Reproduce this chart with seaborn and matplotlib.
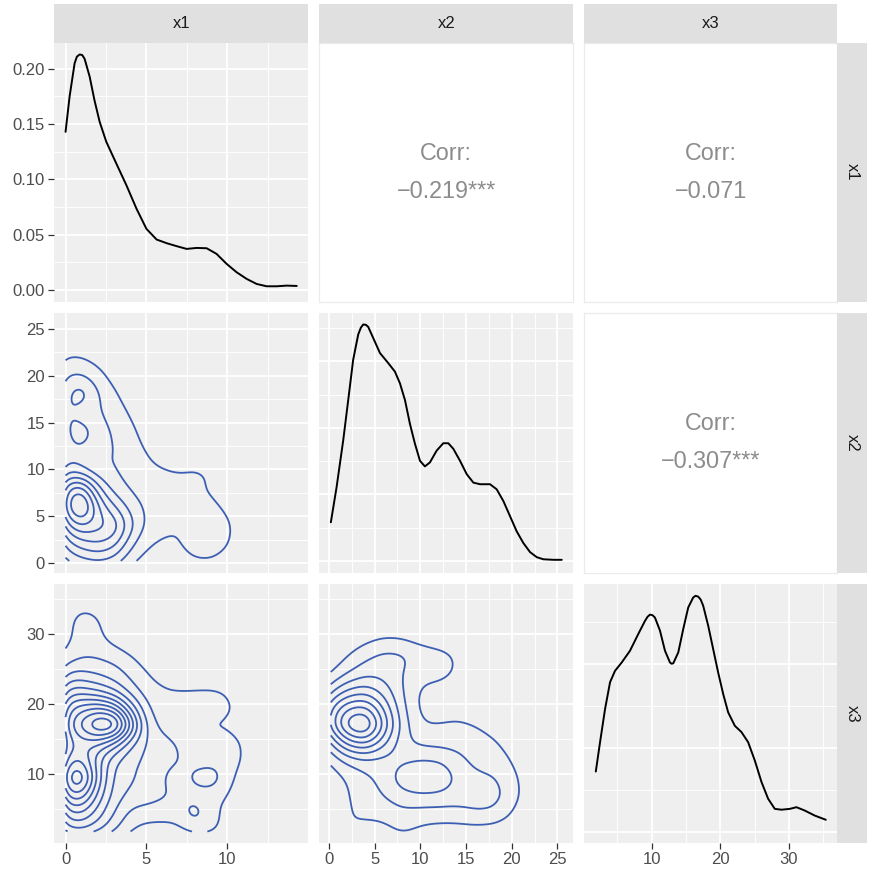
import numpy as np
import matplotlib
matplotlib.use("Agg")
import matplotlib.pyplot as plt
import seaborn as sns

# ---------------------------------------------------------------- data
NAMES = ["x1", "x2", "x3"]

# data extents of each variable
X1_RANGE = (0.0, 14.3)
X2_RANGE = (0.22, 25.48)
X3_RANGE = (1.85, 35.4)

# marginal density estimates
X1_DENS_X = [0.0, 0.25, 0.56, 0.7, 0.87, 1.03, 1.18, 1.49, 1.79, 2.11, 2.52,
             3.15, 3.77, 4.39, 5.0, 5.63, 6.25, 6.87, 7.49, 8.11, 8.73, 9.34,
             9.96, 10.58, 11.2, 11.82, 12.44, 13.06, 13.68, 14.3]
X1_DENS_Y = [0.143, 0.175, 0.205, 0.211, 0.213, 0.2125, 0.209, 0.193, 0.1715,
             0.152, 0.134, 0.114, 0.0945, 0.0734, 0.0553, 0.0456, 0.0423,
             0.0396, 0.0371, 0.0380, 0.0377, 0.0326, 0.0236, 0.016, 0.010,
             0.0054, 0.0033, 0.0033, 0.0039, 0.0036]

X2_DENS_X = [0.22, 0.84, 1.57, 2.12, 2.66, 3.21, 3.5, 3.76, 4.05, 4.31, 4.86,
             5.59, 6.50, 7.23, 7.78, 8.33, 8.87, 9.42, 9.97, 10.51, 11.06,
             11.79, 12.52, 13.07, 13.62, 14.35, 15.08, 15.81, 16.54, 17.63,
             18.36, 19.09, 19.82, 20.55, 21.28, 22.01, 22.74, 23.47, 24.57,
             25.48]
X2_DENS_Y = [0.0145, 0.0275, 0.0452, 0.0604, 0.0755, 0.0850, 0.0876, 0.0888,
             0.0887, 0.0879, 0.0837, 0.0781, 0.0743, 0.0711, 0.0667, 0.0604,
             0.0515, 0.0440, 0.0376, 0.0355, 0.0370, 0.0414, 0.0442, 0.0442,
             0.0421, 0.0376, 0.0326, 0.0294, 0.0288, 0.0288, 0.0269, 0.0225,
             0.0168, 0.0111, 0.0067, 0.0033, 0.0014, 0.0006, 0.0004, 0.0004]

X3_DENS_X = [1.85, 2.47, 3.2, 3.93, 4.65, 5.63, 6.84, 8.05, 9.02, 9.4, 9.75,
             10.1, 10.48, 11.21, 11.94, 12.67, 12.9, 13.15, 13.88, 14.61,
             15.33, 16.06, 16.4, 16.79, 17.15, 17.52, 18.24, 18.97, 19.7,
             20.43, 21.16, 22.13, 23.1, 24.07, 25.05, 26.02, 26.99, 27.96,
             28.94, 30.15, 31.12, 32.33, 33.79, 35.4]
X3_DENS_Y = [0.0143, 0.0213, 0.0292, 0.0356, 0.0383, 0.0403, 0.0431, 0.0471,
             0.0502, 0.0512, 0.0517, 0.0516, 0.0510, 0.0479, 0.0431, 0.0403,
             0.0400, 0.0401, 0.0427, 0.0483, 0.0534, 0.0558, 0.0562, 0.0560,
             0.0553, 0.0538, 0.0491, 0.0435, 0.0379, 0.0328, 0.0284, 0.0252,
             0.0237, 0.0213, 0.0169, 0.0118, 0.0078, 0.0054, 0.0052, 0.0054,
             0.0058, 0.0050, 0.0038, 0.0028]

# binned pair counts (rows: second variable from top to bottom, cols: first)
X1_BINS = [0, 1, 2, 3, 4, 5, 6, 7, 8, 9, 10, 11]
X2_BINS = [0, 2, 4, 6, 8, 10, 12, 14, 16, 18, 20, 22, 24]
X3_BINS = [2, 4.5, 7, 9.5, 12, 14.5, 17, 19.5, 22, 24.5, 27, 29.5, 32, 34.5]

COUNTS_12 = [  # x2 = 24 ... 0 ; x1 = 0 ... 11
    [0.3, 0.3, 0.1, 0.0, 0.0, 0.0, 0.0, 0.0, 0.0, 0.0, 0.0, 0.0],
    [1.0, 0.9, 0.6, 0.2, 0.0, 0.0, 0.0, 0.0, 0.0, 0.0, 0.0, 0.0],
    [2.2, 2.0, 1.3, 0.6, 0.0, 0.0, 0.0, 0.0, 0.0, 0.0, 0.0, 0.0],
    [3.0, 4.6, 2.0, 1.2, 0.4, 0.0, 0.0, 0.0, 0.0, 0.0, 0.0, 0.0],
    [3.8, 1.5, 2.2, 1.6, 0.9, 0.2, 0.0, 0.0, 0.0, 0.0, 0.0, 0.0],
    [3.0, 4.6, 2.3, 2.0, 1.3, 0.6, 0.0, 0.0, 0.0, 0.0, 0.0, 0.0],
    [2.6, 2.6, 2.0, 2.2, 1.4, 1.0, 0.4, 0.3, 0.3, 0.0, 0.0, 0.0],
    [3.6, 2.2, 1.8, 2.0, 1.7, 1.2, 1.1, 1.1, 1.2, 1.1, 0.3, 0.0],
    [7.5, 8.5, 4.0, 2.3, 1.8, 1.5, 1.2, 1.0, 1.0, 1.0, 0.5, 0.0],
    [8.5, 11.5, 6.0, 4.0, 2.5, 1.8, 1.3, 1.0, 1.0, 1.2, 0.9, 0.2],
    [6.0, 7.0, 6.5, 6.5, 3.5, 1.8, 1.2, 1.0, 1.1, 1.4, 1.3, 0.5],
    [3.5, 4.5, 5.0, 4.5, 2.2, 1.0, 0.8, 1.0, 1.3, 1.4, 1.2, 0.4],
    [1.8, 2.5, 3.0, 2.5, 1.0, 0.5, 0.5, 0.7, 1.0, 1.0, 0.6, 0.0],
]

COUNTS_13 = [  # x3 = 34.5 ... 2 ; x1 = 0 ... 11
    [0.0, 0.3, 0.2, 0.0, 0.0, 0.0, 0.0, 0.0, 0.0, 0.0, 0.0, 0.0],
    [0.3, 2.0, 1.2, 0.1, 0.0, 0.0, 0.0, 0.0, 0.0, 0.0, 0.0, 0.0],
    [0.6, 1.5, 1.3, 0.4, 0.0, 0.0, 0.0, 0.0, 0.0, 0.0, 0.0, 0.0],
    [1.2, 1.8, 1.8, 1.6, 1.0, 0.4, 0.0, 0.0, 0.0, 0.0, 0.0, 0.0],
    [3.0, 3.0, 2.7, 2.4, 1.7, 1.0, 0.5, 0.3, 0.0, 0.0, 0.0, 0.0],
    [5.5, 5.2, 4.5, 3.6, 2.3, 1.4, 1.1, 1.1, 1.2, 1.2, 1.0, 0.0],
    [8.0, 8.5, 9.0, 8.0, 4.5, 2.0, 1.2, 1.2, 1.2, 1.4, 1.4, 0.6],
    [9.0, 11.0, 13.8, 14.2, 8.0, 2.5, 1.6, 1.2, 1.0, 0.8, 0.8, 0.3],
    [7.5, 8.0, 8.0, 6.5, 4.0, 2.8, 2.4, 2.0, 1.3, 1.2, 1.6, 1.0],
    [9.0, 9.0, 6.0, 4.0, 3.2, 2.8, 2.4, 2.2, 1.3, 1.3, 1.6, 1.0],
    [11.5, 12.5, 6.5, 3.5, 3.2, 2.6, 2.0, 1.2, 2.6, 3.4, 1.3, 0.5],
    [9.0, 9.0, 5.5, 3.5, 2.8, 2.6, 2.2, 2.0, 1.1, 1.2, 1.0, 0.3],
    [6.0, 6.0, 4.5, 3.0, 1.6, 1.5, 1.5, 1.3, 3.5, 1.1, 0.8, 0.0],
    [4.0, 4.2, 3.4, 2.2, 1.0, 0.5, 0.5, 0.7, 1.0, 1.3, 0.8, 0.0],
]

COUNTS_23 = [  # x3 = 34.5 ... 2 ; x2 = 0 ... 24
    [0.0, 0.0, 0.0, 0.0, 0.0, 0.0, 0.0, 0.0, 0.0, 0.0, 0.0, 0.0, 0.0],
    [0.0, 0.0, 0.0, 0.0, 0.0, 0.0, 0.0, 0.0, 0.0, 0.0, 0.0, 0.0, 0.0],
    [0.0, 0.0, 0.5, 0.9, 0.8, 0.3, 0.0, 0.0, 0.0, 0.0, 0.0, 0.0, 0.0],
    [0.0, 0.9, 1.8, 2.4, 2.4, 1.8, 1.6, 1.0, 0.0, 0.0, 0.0, 0.0, 0.0],
    [0.6, 1.8, 2.6, 2.6, 2.0, 1.4, 1.5, 1.0, 0.0, 0.0, 0.0, 0.0, 0.0],
    [2.4, 4.0, 4.5, 3.5, 2.0, 0.7, 0.6, 0.3, 0.0, 0.0, 0.0, 0.0, 0.0],
    [5.0, 7.0, 7.5, 4.8, 2.2, 0.6, 0.5, 0.6, 0.4, 0.0, 0.0, 0.0, 0.0],
    [5.5, 9.5, 11.0, 6.0, 2.5, 0.9, 1.0, 1.2, 1.0, 0.6, 0.0, 0.0, 0.0],
    [2.5, 5.5, 6.5, 4.2, 2.2, 1.7, 1.6, 1.6, 1.5, 1.2, 0.6, 0.0, 0.0],
    [0.9, 2.2, 2.6, 2.4, 2.6, 3.0, 3.0, 2.4, 1.6, 1.5, 1.0, 0.0, 0.0],
    [0.3, 1.0, 1.8, 2.2, 4.0, 4.5, 4.2, 2.8, 2.2, 2.2, 1.4, 0.3, 0.0],
    [0.2, 0.9, 1.6, 2.0, 2.6, 2.8, 2.8, 2.6, 2.6, 2.6, 1.6, 0.3, 0.0],
    [0.2, 0.9, 1.3, 1.4, 1.8, 1.6, 1.6, 1.6, 2.0, 2.0, 1.0, 0.0, 0.0],
    [0.1, 1.3, 0.5, 0.5, 1.4, 0.7, 0.5, 0.5, 0.5, 0.4, 0.2, 0.0, 0.0],
]

CORR_LABELS = {(0, 1): "Corr:\n\u22120.219***",
               (0, 2): "Corr:\n\u22120.071",
               (1, 2): "Corr:\n\u22120.307***"}

# ---------------------------------------------------------------- style
PANEL_BG = "#EFEFEF"
STRIP_BG = "#E0E0E0"
CONTOUR = "#3D5FB3"
TICK_TEXT = "#4D4D4D"

sns.set_theme(style="darkgrid")
plt.rcParams["font.family"] = ["Liberation Sans", "DejaVu Sans"]

W, H = 871, 876
COLS = [(54, 308.3), (319.3, 573.3), (584.3, 837.3)]
ROWS = [(42.7, 301.7), (312.7, 572.7), (584.0, 843.3)]
STRIP_TOP = (4.0, 42.7)
STRIP_RIGHT = (837.3, 867.0)

RANGES = [X1_RANGE, X2_RANGE, X3_RANGE]
BINS = [X1_BINS, X2_BINS, X3_BINS]
BANDWIDTH = [0.65, 1.3, 1.6]          # kernel sd per variable
MAJORS = [[0, 5, 10], [0, 5, 10, 15, 20, 25], [10, 20, 30]]


def rect(xs, ys):
    return [xs[0] / W, 1 - ys[1] / H, (xs[1] - xs[0]) / W, (ys[1] - ys[0]) / H]


def expand(lo, hi, f=0.05):
    d = (hi - lo) * f
    return lo - d, hi + d


def minors(major):
    step = major[1] - major[0]
    return [m + step / 2 for m in [major[0] - step] + list(major)]


def kde2d(j, i, counts, n=220):
    """Gaussian kernel density of binned counts on the data range, in count units."""
    xb, yb = np.asarray(BINS[j], float), np.asarray(BINS[i], float)[::-1]
    c = np.asarray(counts, float)
    gx = np.linspace(*RANGES[j], n)
    gy = np.linspace(*RANGES[i], n)
    sx, sy = BANDWIDTH[j], BANDWIDTH[i]
    kx = np.exp(-0.5 * ((gx[:, None] - xb[None, :]) / sx) ** 2)
    ky = np.exp(-0.5 * ((gy[:, None] - yb[None, :]) / sy) ** 2)
    z = ky @ c @ kx.T
    cell = (xb[1] - xb[0]) * abs(yb[1] - yb[0])
    return gx, gy, z * cell / (2 * np.pi * sx * sy)


fig = plt.figure(figsize=(W / 100, H / 100), dpi=100)
fig.patch.set_facecolor("white")


def style_panel(ax, xmaj, ymaj, xlim, ylim):
    ax.set_facecolor(PANEL_BG)
    for s in ax.spines.values():
        s.set_visible(False)
    ax.set_xlim(*xlim)
    ax.set_ylim(*ylim)
    ax.set_xticks(xmaj)
    ax.set_yticks(ymaj)
    ax.set_xticks([m for m in minors(xmaj) if xlim[0] <= m <= xlim[1]], minor=True)
    ax.set_yticks([m for m in minors(ymaj) if ylim[0] <= m <= ylim[1]], minor=True)
    ax.grid(which="major", color="white", linewidth=1.3)
    ax.grid(which="minor", color="white", linewidth=0.65)
    ax.set_axisbelow(True)
    ax.tick_params(which="minor", length=0)
    ax.tick_params(which="major", length=4, width=0.9, color="#333333",
                   labelcolor=TICK_TEXT, labelsize=12, pad=2.5,
                   bottom=False, left=False, labelbottom=False, labelleft=False)
    ax.set_xlabel("")
    ax.set_ylabel("")


dens = {0: (X1_DENS_X, X1_DENS_Y, [0, 0.05, 0.10, 0.15, 0.20]),
        1: (X2_DENS_X, X2_DENS_Y, [0, 0.025, 0.05, 0.075]),
        2: (X3_DENS_X, X3_DENS_Y, [0, 0.02, 0.04])}
pairs = {(1, 0): COUNTS_12, (2, 0): COUNTS_13, (2, 1): COUNTS_23}

for i in range(3):
    for j in range(3):
        ax = fig.add_axes(rect(COLS[j], ROWS[i]))
        xlim = expand(*RANGES[j])
        if i == j:
            dx, dy, ymaj = dens[i]
            sns.lineplot(x=dx, y=dy, sort=False, estimator=None, color="black",
                         linewidth=1.4, ax=ax)
            top = max(dy)
            style_panel(ax, MAJORS[j], ymaj, xlim, (-0.05 * top, 1.05 * top))
            if i == 0:
                ax.set_yticks(ymaj, ["0.00", "0.05", "0.10", "0.15", "0.20"])
        elif i > j:
            gx, gy, z = kde2d(j, i, pairs[(i, j)])
            ax.contour(gx, gy, z, levels=np.arange(1, z.max(), 1.0),
                       colors=CONTOUR, linewidths=1.3)
            style_panel(ax, MAJORS[j], MAJORS[i], xlim, expand(*RANGES[i]))
        else:
            ax.set_facecolor("white")
            ax.grid(False)
            ax.set_xticks([])
            ax.set_yticks([])
            for s in ax.spines.values():
                s.set_visible(True)
                s.set_color("#EBEBEB")
                s.set_linewidth(0.9)
            ax.text(0.5, 0.5, CORR_LABELS[(i, j)], ha="center", va="center",
                    fontsize=16.8, color="#8C8C8C", linespacing=1.85,
                    transform=ax.transAxes)
            continue
        if j == 0:
            ax.tick_params(which="major", left=True, labelleft=True)
        if i == 2:
            ax.tick_params(which="major", bottom=True, labelbottom=True)

for j in range(3):
    sax = fig.add_axes(rect(COLS[j], STRIP_TOP))
    sax.set_facecolor(STRIP_BG)
    sax.grid(False)
    sax.set_xticks([])
    sax.set_yticks([])
    for s in sax.spines.values():
        s.set_visible(False)
    sax.text(0.5, 0.5, NAMES[j], ha="center", va="center", fontsize=12,
             color="#1A1A1A", transform=sax.transAxes)

for i in range(3):
    sax = fig.add_axes(rect(STRIP_RIGHT, ROWS[i]))
    sax.set_facecolor(STRIP_BG)
    sax.grid(False)
    sax.set_xticks([])
    sax.set_yticks([])
    for s in sax.spines.values():
        s.set_visible(False)
    sax.text(0.5, 0.5, NAMES[i], ha="center", va="center", fontsize=12,
             rotation=-90, color="#1A1A1A", transform=sax.transAxes)

fig.savefig("out.png", dpi=100)
